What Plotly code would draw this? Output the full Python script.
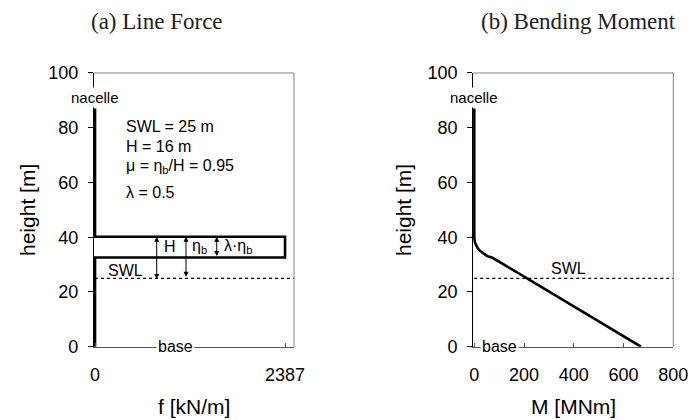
import plotly.graph_objects as go

# ---- data ----
SWL = 25            # still water level [m]
H_WAVE = 16         # wave height [m]
ETA_B = 15.2        # crest elevation above SWL [m]
LAMBDA_ETA = 7.6    # lambda * eta_b [m]
F_MAX = 2387        # line force [kN/m]

force_height = [87, 40.2, 40.2, 32.6, 32.6, 0]
force_value = [0, 0, 2387, 2387, 0, 0]

moment_height = [87, 40.2, 39, 38, 37, 36, 35, 34, 33, 32.6, 25, 0]
moment_value = [0, 0, 1, 3, 8, 14, 24, 38, 55, 70, 212, 670]

y_ticks = [0, 20, 40, 60, 80, 100]
f_ticks = [0, 2387]
m_ticks = [0, 200, 400, 600, 800]

params_text = ["SWL = 25 m", "H = 16 m", "\u03bc = \u03b7<sub>b</sub>/H = 0.95", "\u03bb = 0.5"]
params_y = [80.6, 73.3, 65.7, 56.5]

SANS = "Liberation Sans, Arial, sans-serif"
SERIF = "Liberation Serif, Times New Roman, serif"

fig = go.Figure()
fig.add_trace(go.Scatter(x=force_value, y=force_height, mode="lines",
                         line=dict(color="black", width=2.6), xaxis="x", yaxis="y"))
fig.add_trace(go.Scatter(x=moment_value, y=moment_height, mode="lines",
                         line=dict(color="black", width=2.6, shape="spline", smoothing=0.3),
                         xaxis="x2", yaxis="y2"))

shapes = []
for xr, yr in (("x", "y"), ("x2", "y2")):
    # SWL dotted line
    shapes.append(dict(type="line", xref=f"{xr} domain", yref=yr, x0=0.006, x1=1, y0=SWL, y1=SWL,
                       line=dict(color="black", width=1.2, dash="dot")))
    # top and right frame
    shapes.append(dict(type="line", xref=f"{xr} domain", yref=f"{yr} domain", x0=0, x1=1, y0=1, y1=1,
                       line=dict(color="#808080", width=1)))
    shapes.append(dict(type="line", xref=f"{xr} domain", yref=f"{yr} domain", x0=1, x1=1, y0=0, y1=1,
                       line=dict(color="#808080", width=1)))

ann = []
C = dict(xanchor="center", yanchor="middle", showarrow=False)
# titles
ann.append(dict(C, xref="paper", yref="paper", x=0.2269, y=0.95, text="(a) Line Force",
                font=dict(family=SERIF, size=23, color="#222")))
ann.append(dict(C, xref="paper", yref="paper", x=0.8367, y=0.95, text="(b) Bending Moment",
                font=dict(family=SERIF, size=23, color="#222")))
# axis titles
for xp in (0.039, 0.5824):
    ann.append(dict(C, xref="paper", yref="paper", x=xp, y=0.5, text="height [m]", textangle=-90,
                    font=dict(family=SANS, size=21, color="black")))
ann.append(dict(C, xref="paper", yref="paper", x=0.281, y=0.0333, text="f [kN/m]",
                font=dict(family=SANS, size=21, color="black")))
ann.append(dict(C, xref="paper", yref="paper", x=0.829, y=0.0333, text="M [MNm]",
                font=dict(family=SANS, size=21, color="black")))

lab_font = dict(family=SANS, size=15, color="black")
# labels on both plots
for xr, yr, base_x in (("x", "y", 1005), ("x2", "y2", 103)):
    ann.append(dict(C, xref=xr, yref=yr, x=0, y=91, text="nacelle",
                    bgcolor="white", font=lab_font))
    ann.append(dict(C, xref=xr, yref=yr, x=base_x, y=0, text="base",
                    bgcolor="white", font=dict(family=SANS, size=16, color="black")))
ann.append(dict(C, xref="x", yref="y", x=377, y=27.8, text="SWL",
                font=dict(family=SANS, size=16, color="black")))
ann.append(dict(C, xref="x2", yref="y2", x=377, y=28.4, text="SWL",
                font=dict(family=SANS, size=16, color="black")))

for t, yy in zip(params_text, params_y):
    ann.append(dict(xref="x", yref="y", x=364, y=yy, text=t, showarrow=False, xanchor="left",
                    yanchor="middle", font=dict(family=SANS, size=16, color="black")))

# dimension arrows
arrows = [(775, SWL + ETA_B - H_WAVE, SWL + ETA_B, "H", 838),
          (1143, SWL, SWL + ETA_B, "\u03b7<sub>b</sub>", 1193),
          (1529, SWL + ETA_B - LAMBDA_ETA, SWL + ETA_B, "\u03bb\u00b7\u03b7<sub>b</sub>", 1592)]
for ax_x, y0, y1, label, lx in arrows:
    ann.append(dict(xref="x", yref="y", axref="x", ayref="y", x=ax_x, y=y1, ax=ax_x, ay=y0,
                    text="", showarrow=True, arrowside="end+start", arrowhead=2,
                    arrowsize=1, arrowwidth=1, arrowcolor="black"))
    ann.append(dict(xref="x", yref="y", x=lx, y=36.6, text=label, showarrow=False, xanchor="left",
                    yanchor="middle", font=dict(family=SANS, size=16, color="black")))

tick_font = dict(family=SANS, size=18, color="black")
common_x = dict(showgrid=False, zeroline=False, showline=True, linecolor="#555", linewidth=1,
                ticks="inside", ticklen=4, tickcolor="#555", tickfont=tick_font, ticklabelstandoff=12,
                automargin=False)
common_y = dict(showgrid=False, zeroline=False, showline=True, linecolor="black", linewidth=1,
                ticks="outside", ticklen=5, tickcolor="black", tickfont=tick_font,
                range=[0, 100], tickvals=y_ticks, domain=[0.1745, 0.8262], ticklabelstandoff=6,
                automargin=False)

fig.update_layout(
    width=692, height=420, margin=dict(l=0, r=0, t=0, b=0, autoexpand=False),
    paper_bgcolor="white", plot_bgcolor="white", showlegend=False,
    xaxis=dict(common_x, domain=[0.1356, 0.4249], range=[-15, 2500], tickvals=f_ticks, anchor="y"),
    yaxis=dict(common_y, anchor="x"),
    xaxis2=dict(common_x, domain=[0.6836, 0.9730], range=[-5, 800], tickvals=m_ticks, anchor="y2"),
    yaxis2=dict(common_y, anchor="x2"),
    shapes=shapes, annotations=ann,
)

fig.write_html("out.html")
